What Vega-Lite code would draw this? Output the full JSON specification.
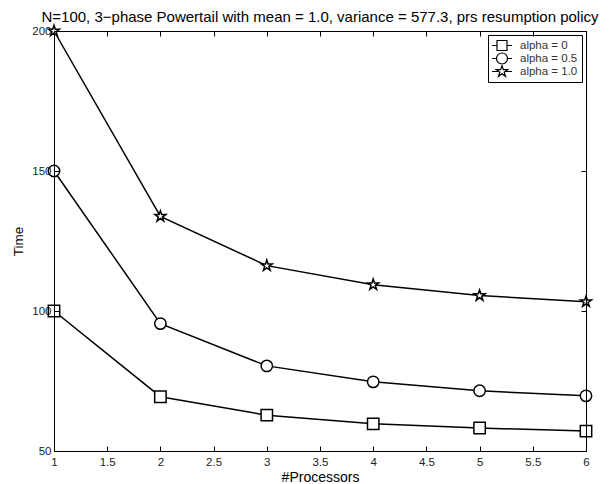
{
  "$schema": "https://vega.github.io/schema/vega-lite/v6.json",
  "width": 532,
  "height": 420,
  "autosize": "none",
  "padding": {"left": 54, "top": 31, "right": 27, "bottom": 33},
  "background": "white",
  "config": {
    "font": "Liberation Sans",
    "view": {"stroke": "black", "strokeWidth": 1},
    "axis": {"grid": false, "domainColor": "black", "tickColor": "black", "labelColor": "#222", "titleColor": "black", "labelFontSize": 11.5, "titleFontSize": 13.5, "titleFontWeight": "normal", "labelFlush": false}
  },
  "title": {"text": "N=100, 3\u2212phase Powertail with mean = 1.0, variance = 577.3, prs resumption policy", "fontSize": 15, "fontWeight": "normal", "font": "Liberation Sans", "color": "black", "anchor": "middle", "offset": -3},
  "data": {"values": [
    {"p": 1, "t": 100, "s": "alpha = 0"},
    {"p": 2, "t": 69.4, "s": "alpha = 0"},
    {"p": 3, "t": 62.8, "s": "alpha = 0"},
    {"p": 4, "t": 59.7, "s": "alpha = 0"},
    {"p": 5, "t": 58.2, "s": "alpha = 0"},
    {"p": 6, "t": 57.1, "s": "alpha = 0"},
    {"p": 1, "t": 150, "s": "alpha = 0.5"},
    {"p": 2, "t": 95.5, "s": "alpha = 0.5"},
    {"p": 3, "t": 80.4, "s": "alpha = 0.5"},
    {"p": 4, "t": 74.7, "s": "alpha = 0.5"},
    {"p": 5, "t": 71.5, "s": "alpha = 0.5"},
    {"p": 6, "t": 69.7, "s": "alpha = 0.5"},
    {"p": 1, "t": 200, "s": "alpha = 1.0"},
    {"p": 2, "t": 133.8, "s": "alpha = 1.0"},
    {"p": 3, "t": 116.2, "s": "alpha = 1.0"},
    {"p": 4, "t": 109.4, "s": "alpha = 1.0"},
    {"p": 5, "t": 105.5, "s": "alpha = 1.0"},
    {"p": 6, "t": 103.3, "s": "alpha = 1.0"}
  ]},
  "layer": [
    {
      "mark": {"type": "line", "color": "black", "strokeWidth": 1.5},
      "encoding": {
        "x": {"field": "p", "type": "quantitative", "scale": {"domain": [1, 6], "nice": false, "zero": false}, "axis": {"title": "#Processors", "titleFontSize": 14, "labelExpr": "'' + datum.value", "values": [1, 1.5, 2, 2.5, 3, 3.5, 4, 4.5, 5, 5.5, 6], "tickSize": -5, "labelPadding": 10, "titlePadding": 3, "zindex": 1}},
        "y": {"field": "t", "type": "quantitative", "scale": {"domain": [50, 200], "nice": false, "zero": false}, "axis": {"title": "Time", "labelExpr": "'' + datum.value", "values": [50, 100, 150, 200], "tickSize": -5, "labelPadding": 8, "titlePadding": 6, "zindex": 1}},
        "detail": {"field": "s"}
      }
    },
    {
      "mark": {"type": "point", "filled": false, "fill": "white", "fillOpacity": 1, "stroke": "black", "strokeWidth": 1.5, "size": 130, "opacity": 1},
      "encoding": {
        "x": {"field": "p", "type": "quantitative", "axis": null},
        "y": {"field": "t", "type": "quantitative", "axis": null},
        "shape": {"field": "s", "type": "nominal", "legend": null, "scale": {"range": ["square", "circle", "M0,-1L0.2245,-0.309L0.951,-0.309L0.363,0.118L0.588,0.809L0,0.382L-0.588,0.809L-0.363,0.118L-0.951,-0.309L-0.2245,-0.309Z"]}}
      }
    },
    {
      "mark": {"type": "point", "size": 0},
      "encoding": {
        "x": {"field": "p", "type": "quantitative", "axis": {"orient": "top", "title": null, "labels": false, "values": [1, 1.5, 2, 2.5, 3, 3.5, 4, 4.5, 5, 5.5, 6], "tickSize": -5, "zindex": 1}},
        "y": {"field": "t", "type": "quantitative", "axis": {"orient": "right", "title": null, "labels": false, "values": [50, 100, 150, 200], "tickSize": -5, "zindex": 1}},
        "shape": {"field": "s", "type": "nominal",
          "scale": {"range": ["M-1.2,0H-0.2M1.8,0H2.8M-0.2,-1H1.8V1H-0.2Z", "M-1.2,0H-0.3M1.9,0H2.8M-0.3,0A1.1,1.1,0,1,1,1.9,0A1.1,1.1,0,1,1,-0.3,0Z", "M-1.2,0H0.25M1.35,0H2.8M0.8,-1.2L1.0694,-0.3708L1.9412,-0.3708L1.2356,0.1416L1.5056,0.9708L0.8,0.4584L0.0944,0.9708L0.3644,0.1416L-0.3412,-0.3708L0.5306,-0.3708Z"]},
          "legend": {"title": null, "orient": "top-right", "offset": 4, "strokeColor": "black", "fillColor": "white", "padding": 4, "labelFontSize": 11.5, "labelColor": "#333", "rowPadding": 0, "clipHeight": 13, "labelOffset": 16,
            "labelExpr": "datum.label + '\u00a0\u00a0\u00a0'",
            "encoding": {"symbols": {
              "size": {"value": 100},
              "stroke": {"value": "black"},
              "fill": {"value": "white"},
              "strokeWidth": {"value": 1.2},
              "opacity": {"value": 1}
            }}}}
      }
    }
  ],
  "resolve": {"axis": {"x": "independent", "y": "independent"}, "scale": {"shape": "independent"}}
}
